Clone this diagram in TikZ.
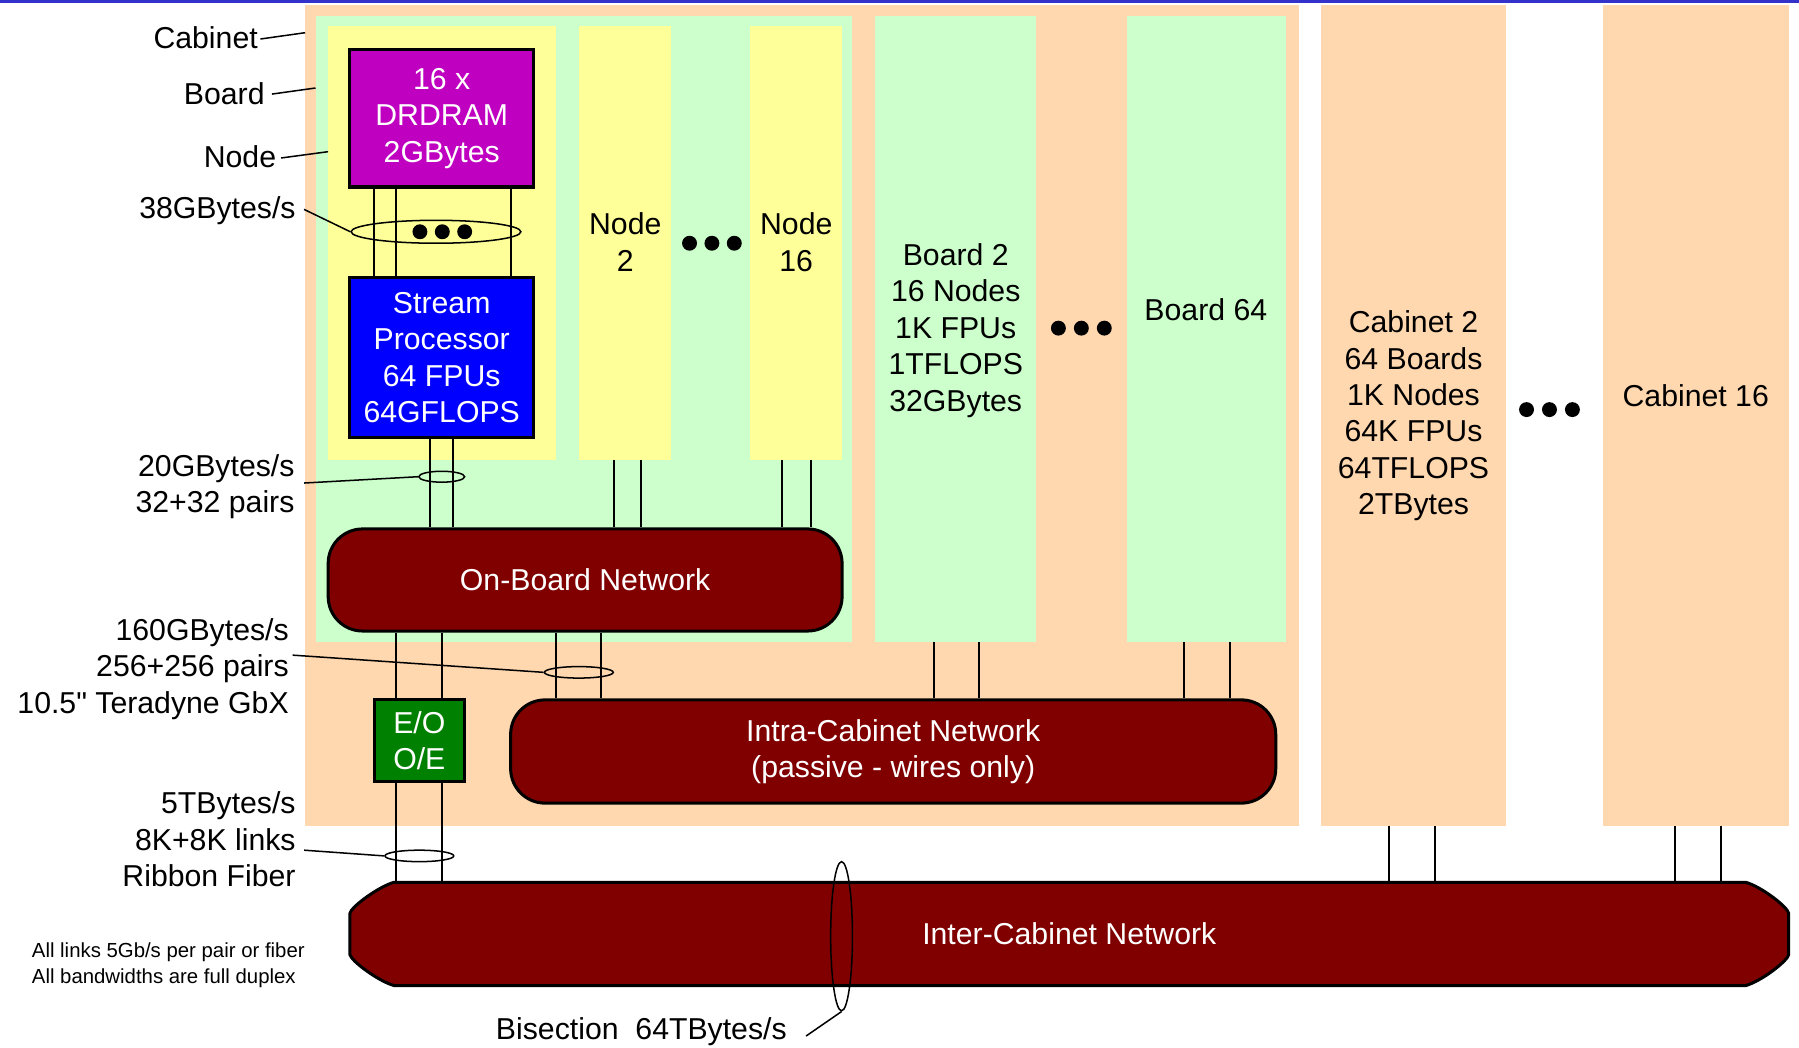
\documentclass[tikz,border=0pt]{standalone}
\usepackage{fontspec}
\setmainfont{Liberation Sans}[Ligatures=TeXOff]
\definecolor{cabpeach}{RGB}{255,216,176}
\definecolor{boardgreen}{RGB}{204,255,204}
\definecolor{nodeyellow}{RGB}{255,255,153}
\definecolor{drammag}{RGB}{192,0,192}
\definecolor{spblue}{RGB}{0,0,255}
\definecolor{netred}{RGB}{128,0,0}
\definecolor{eogreen}{RGB}{0,128,0}
\definecolor{barblue}{RGB}{51,51,204}
\usetikzlibrary{shapes.geometric,positioning,calc}
\newcommand{\bigtxt}{\fontsize{15}{18.1}\selectfont}
\newcommand{\smalltxt}{\fontsize{10.1}{12.8}\selectfont}

\begin{document}
\begin{tikzpicture}[x=0.02cm,y=-0.02cm,
    region/.style={inner sep=0pt,outer sep=0pt,anchor=north west},
    chip/.style={draw=black,line width=1.5pt,text=white,font=\bigtxt,align=center,inner sep=0pt},
    net/.style={fill=netred,draw=black,line width=1.5pt},
    wire/.style={line width=1pt},
    lead/.style={line width=0.75pt},
    bundle/.style={ellipse,draw=black,line width=0.75pt,inner sep=0pt},
    lbl/.style={font=\bigtxt,align=right,anchor=east,inner sep=0pt},
    txt/.style={font=\bigtxt,align=center,inner sep=0pt}]
  \useasboundingbox (0,0) rectangle (1568,913);
  % rule at the top
  \fill[barblue] (0,0) rectangle (1568,2.6);
  % cabinets
  \node[region,fill=cabpeach,minimum width=17.32cm,minimum height=14.32cm] (cab1) at (266,4) {};
  \node[region,fill=cabpeach,minimum width=3.24cm,minimum height=14.32cm] (cab2) at (1151,4) {};
  \node[region,fill=cabpeach,minimum width=3.24cm,minimum height=14.32cm] (cab16) at (1397,4) {};
  % boards
  \node[region,fill=boardgreen,minimum width=9.36cm,minimum height=10.92cm] (board1) at (275,14) {};
  \node[region,fill=boardgreen,minimum width=2.8cm,minimum height=10.92cm] (board2) at (763,14) {};
  \node[region,fill=boardgreen,minimum width=2.78cm,minimum height=10.92cm] (board64) at (982,14) {};
  % nodes
  \node[region,fill=nodeyellow,minimum width=3.98cm,minimum height=7.56cm] (node1) at (286,23) {};
  \node[region,fill=nodeyellow,minimum width=1.6cm,minimum height=7.56cm] (node2) at (505,23) {};
  \node[region,fill=nodeyellow,minimum width=1.6cm,minimum height=7.56cm] (node16) at (654,23) {};

  % texts in the regions
  \node[txt] (t2) at (545,211) {Node\\2};
  \node[txt] (t16) at (694,211) {Node\\16};
  \node[txt] (tb2) at (833,288) {Board 2\\16 Nodes\\1K FPUs\\1TFLOPS\\32GBytes};
  \node[txt] (tb64) at (1051,270) {Board 64};
  \node[txt] (tc2) at (1232,362.5) {Cabinet 2\\64 Boards\\1K Nodes\\64K FPUs\\64TFLOPS\\2TBytes};
  \node[txt] (tc16) at (1478,345) {Cabinet 16};

  % chips
  \node[chip,fill=drammag,minimum width=3.2cm,minimum height=2.4cm] (dram) at (385,103) {16 x\\DRDRAM\\2GBytes};
  \node[chip,fill=spblue,minimum width=3.2cm,minimum height=2.78cm] (sp) at (385,311.5) {Stream\\Processor\\64 FPUs\\64GFLOPS};
  \node[chip,fill=eogreen,minimum width=1.58cm,minimum height=1.42cm] (eo) at (365.5,645.5) {E/O\\O/E};

  % networks
  \node[net,rounded corners=0.6cm,minimum width=8.96cm,minimum height=1.78cm,text=white,font=\bigtxt] (onboard) at (510,505.5) {On-Board Network};
  \node[net,rounded corners=0.6cm,minimum width=13.34cm,minimum height=1.8cm,text=white,font=\bigtxt,align=center] (intra) at (778.5,655) {Intra-Cabinet Network\\(passive - wires only)};
  \draw[net] (343.4,769) -- (1521.6,769) .. controls (1535.5,773) and (1558,790.5) .. (1559,796)
    -- (1559,832) .. controls (1558,837.5) and (1535.5,855) .. (1521.6,859) -- (343.4,859)
    .. controls (329.5,855) and (306,837.5) .. (305,832) -- (305,796)
    .. controls (306,790.5) and (329.5,773) .. (343.4,769) -- cycle;
  \node[inner sep=0pt,minimum width=25.08cm,minimum height=1.8cm,text=white,font=\bigtxt] (inter) at (932,814) {Inter-Cabinet Network};

  % wires
  \foreach \a/\b/\x in {dram/sp/326, dram/sp/345, dram/sp/445,
      sp/onboard/375, sp/onboard/395, node2/onboard/535, node2/onboard/559,
      node16/onboard/682, node16/onboard/707, onboard/eo/345, onboard/eo/385,
      eo/inter/345, eo/inter/385, onboard/intra/485, onboard/intra/524,
      board2/intra/814, board2/intra/853, board64/intra/1032, board64/intra/1072,
      cab2/inter/1211, cab2/inter/1251, cab16/inter/1460, cab16/inter/1500} {
    \path (\x,0) coordinate (wx);
    \draw[wire] (\a.south -| wx) -- (\b.north -| wx);
  }

  % bundles
  \node[bundle,minimum width=2.96cm,minimum height=0.4cm] (b38) at (380,202) {};
  \node[bundle,minimum width=0.8cm,minimum height=0.19cm] (b20) at (385,415.5) {};
  \node[bundle,minimum width=1.2cm,minimum height=0.2cm] (b160) at (504.5,586) {};
  \node[bundle,minimum width=1.2cm,minimum height=0.2cm] (bfib) at (365.5,746) {};
  \node[bundle,minimum width=0.38cm,minimum height=2.6cm] (bisec) at (733.5,816) {};

  % dots
  \foreach \x/\y in {366/202, 385.5/202, 405/202, 601/212, 620.5/212, 640/212,
      922.5/286, 942.5/286, 962.5/286, 1330.5/357, 1350.5/357, 1370.5/357}
    \fill (\x,\y) circle (0.13cm);

  % labels on the left
  \node[lbl] (cablbl) at (225,33) {Cabinet};
  \node[lbl] (boardlbl) at (231,82) {Board};
  \node[lbl] (nodelbl) at (241,137) {Node};
  \node[lbl] (lbl38) at (258,184) {38GBytes/s};
  \node[lbl] (lbl20) at (257,424) {20GBytes/s\\32+32 pairs};
  \node[lbl] (lbl160) at (252,583) {160GBytes/s\\256+256 pairs\\10.5" Teradyne GbX};
  \node[lbl] (lblfib) at (258,731.5) {5TBytes/s\\8K+8K links\\Ribbon Fiber};
  \draw[lead] ($(cablbl.east)+(2,1)$) -- ($(cab1.north west)+(0,24.5)$);
  \draw[lead] ($(boardlbl.east)+(6,0)$) -- ($(board1.north west)+(0,62.7)$);
  \draw[lead] ($(nodelbl.east)+(4,0.7)$) -- ($(node1.north west)+(0,109.2)$);
  \draw[lead] ($(lbl38.east)+(7,-1.5)$) -- (b38.west);
  \draw[lead] ($(lbl20.east)+(8,-3)$) -- (b20.west);
  \draw[lead] ($(lbl160.east)+(3,-12)$) -- (b160.west);
  \draw[lead] ($(lblfib.east)+(7,9.5)$) -- (bfib.west);

  % notes
  \node[font=\smalltxt,align=left,anchor=west,inner sep=0pt] (notes) at (27.5,841) {All links 5Gb/s per pair or fiber\\All bandwidths are full duplex};
  \node[txt] (bislbl) at (559,899) {Bisection\ \ 64TBytes/s};
  \draw[lead] (bisec.south) -- ($(bislbl.east)+(16.5,4)$);
\end{tikzpicture}
\end{document}
